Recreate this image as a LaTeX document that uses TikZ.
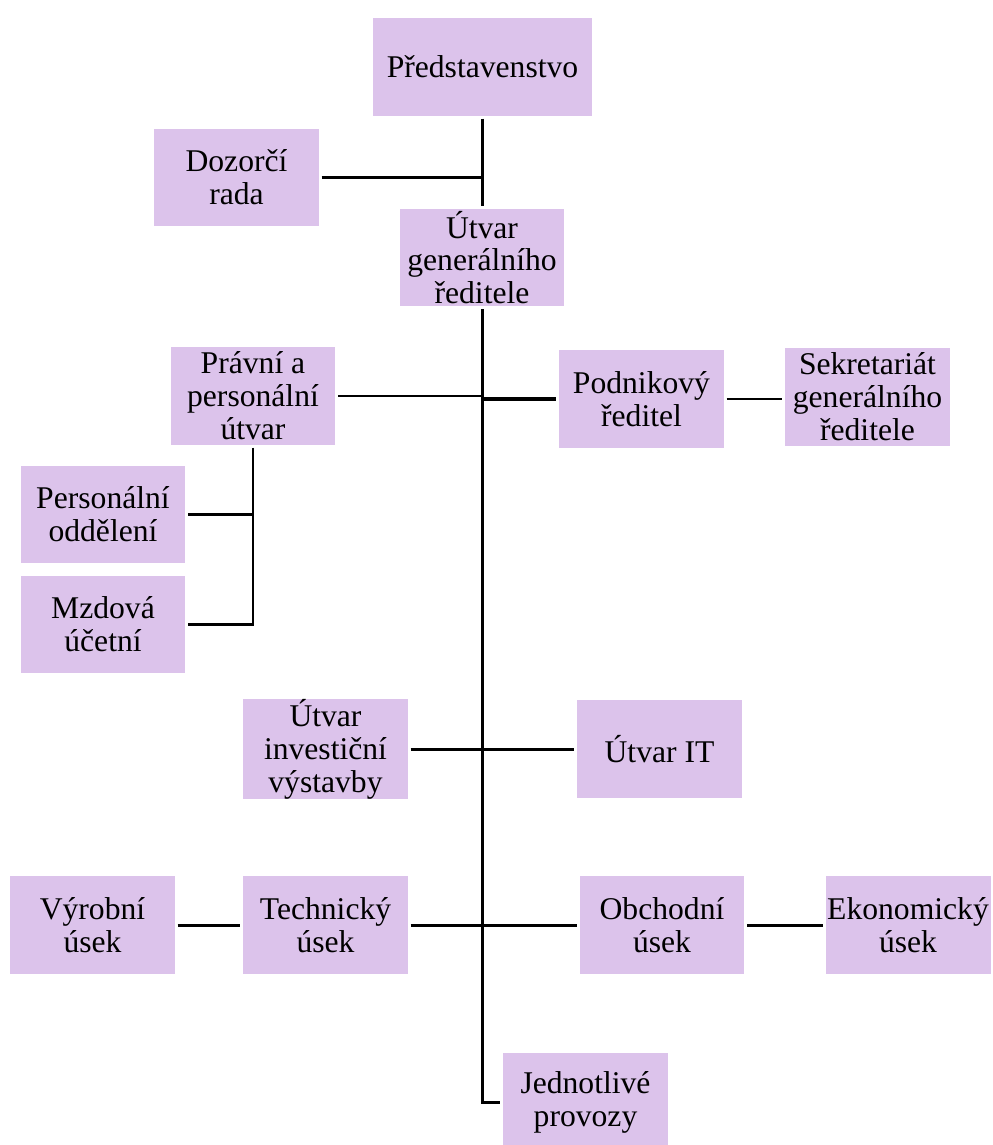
\documentclass[tikz,border=0pt]{standalone}
\usepackage{fontspec}
\setmainfont{Liberation Serif}
\definecolor{boxfill}{RGB}{220,195,235}

\begin{document}
\begin{tikzpicture}[x=0.02cm,y=-0.02cm,
  box/.style={fill=boxfill,align=center,inner sep=0pt,outer sep=1.5pt,
    minimum width=3.3cm,minimum height=1.96cm,font=\fontsize{18}{18.7}\selectfont},
  link/.style={line width=1.7pt}]

\clip (0,0) rectangle (992,1145);

\node[box,minimum width=4.38cm] (pred) at (482.5,67) {Představenstvo};
\node[box] (dozor) at (236.5,177.5) {Dozorčí\\rada};
\node[box] (gen) at (482,257.5) {Útvar\\generálního\\ředitele};

\node[box] (pravni) at (253,396) {Právní a\\personální\\útvar};
\node[box] (podnik) at (641.5,399) {Podnikový\\ředitel};
\node[box] (sekret) at (867.5,397) {Sekretariát\\generálního\\ředitele};
\node[box] (persodd) at (103,514.5) {Personální\\oddělení};
\node[box] (mzdova) at (103,624.5) {Mzdová\\účetní};

\node[box] (invest) at (325.5,749) {Útvar\\investiční\\výstavby};
\node[box] (it) at (659.5,749) {Útvar IT};

\node[box] (vyrob) at (92.5,925) {Výrobní\\úsek};
\node[box] (tech) at (325.5,925) {Technický\\úsek};
\node[box] (obchod) at (662,925) {Obchodní\\úsek};
\node[box] (ekon) at (908,925) {Ekonomický\\úsek};
\node[box] (provoz) at (585.5,1102) {Jednotlivé\\provozy};



\draw[link] (pred.south) -- (pred.south |- gen.north);
\draw[link] (dozor.east) -- (dozor.east -| gen.north);
\draw[link] (gen.south) -- (gen.south |- provoz.west) -- (provoz.west);

\draw[link] (pravni.east) -- (pravni.east -| gen.south);
\draw[link,line width=2.8pt] (podnik.west -| gen.south) -- (podnik.west);
\draw[link] (podnik.east) -- (podnik.east -| sekret.west);
\draw[link] (pravni.south) -- (pravni.south |- mzdova.east) -- (mzdova.east);
\draw[link] (persodd.east) -- (persodd.east -| pravni.south);

\draw[link] (invest.east) -- (it.west);

\draw[link] (vyrob.east) -- (tech.west);
\draw[link] (tech.east) -- (obchod.west);
\draw[link] (obchod.east) -- (ekon.west);


\end{tikzpicture}
\end{document}
